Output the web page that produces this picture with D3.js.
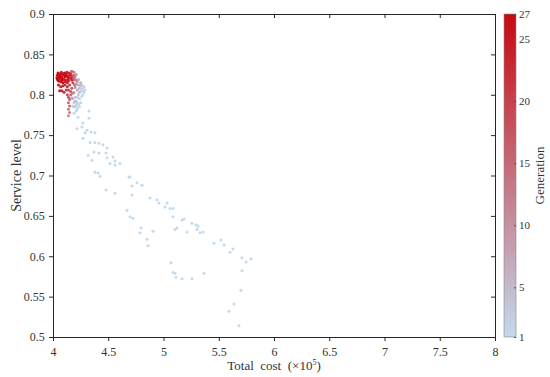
<!DOCTYPE html>
<html><head><meta charset="utf-8">
<script src="https://cdn.jsdelivr.net/npm/d3@7"></script>
<style>body{margin:0;background:#fff}svg{display:block}</style>
</head><body><svg id="c" width="550" height="377"></svg>
<script>
const xTicks = [4, 4.5, 5, 5.5, 6, 6.5, 7, 7.5, 8];
const yTicks = [0.5, 0.55, 0.6, 0.65, 0.7, 0.75, 0.8, 0.85, 0.9];
const genTicks = [1, 5, 10, 15, 20, 25, 27];
// tail points [cost, service, generation]
const tailPoints = [
 [4.181,0.785,2],[4.217,0.781,1],[4.326,0.780,1],[4.226,0.772,1],[4.326,0.771,1],[4.271,0.765,1],
 [4.217,0.758,1],[4.262,0.760,1],[4.308,0.756,1],[4.344,0.754,1],[4.380,0.753,1],[4.290,0.753,1],
 [4.271,0.746,1],[4.335,0.741,1],[4.380,0.741,1],[4.416,0.740,1],[4.452,0.738,1],[4.489,0.734,1],
 [4.371,0.729,1],[4.416,0.728,1],[4.543,0.723,1],[4.480,0.728,1],[4.317,0.725,1],[4.489,0.722,1],
 [4.561,0.718,1],[4.353,0.719,1],[4.516,0.715,1],[4.561,0.713,1],[4.606,0.715,1],[4.380,0.704,1],
 [4.407,0.703,1],[4.425,0.699,1],[4.697,0.698,1],[4.480,0.682,1],[4.561,0.678,1],
 [4.688,0.698,1],[4.760,0.691,1],[4.805,0.688,1],[4.715,0.687,1],[4.715,0.676,1],
 [4.878,0.672,1],[4.941,0.670,1],[4.959,0.666,1],[5.032,0.666,1],[5.014,0.661,1],[5.059,0.659,1],
 [5.086,0.659,1],[4.670,0.657,1],[4.697,0.649,1],[4.724,0.647,1],[5.086,0.649,1],[5.167,0.645,1],
 [5.186,0.646,1],[5.122,0.635,1],[5.104,0.633,1],[5.213,0.630,1],[4.796,0.635,1],[4.787,0.629,1],
 [4.905,0.631,1],[4.851,0.621,1],[4.860,0.613,1],
 [5.258,0.641,1],[5.294,0.639,1],[5.312,0.637,1],[5.303,0.633,1],[5.330,0.629,1],[5.357,0.630,1],
 [5.457,0.616,1],[5.520,0.620,1],[5.548,0.614,1],[5.602,0.605,1],[5.629,0.609,1],[5.710,0.598,1],
 [5.747,0.593,1],[5.792,0.597,1],[5.710,0.582,1],[5.367,0.579,1],[5.258,0.572,1],[5.701,0.558,1],
 [5.068,0.592,1],[5.086,0.580,1],[5.104,0.579,1],[5.113,0.574,1],[5.167,0.572,1],
 [5.638,0.541,1],[5.593,0.532,1],[5.683,0.514,1]
];
// dense cluster near the front
const clusterPoints = [
 [4.035,0.821,27],[4.045,0.827,26],[4.04,0.824,27],[4.05,0.826,27],[4.06,0.823,27],[4.07,0.825,26],
 [4.075,0.828,25],[4.08,0.822,27],[4.09,0.826,26],[4.10,0.824,27],[4.105,0.827,26],[4.11,0.822,26],
 [4.12,0.825,25],[4.125,0.828,24],[4.13,0.823,26],[4.14,0.821,25],[4.145,0.827,23],[4.15,0.824,24],
 [4.16,0.826,21],[4.16,0.820,23],[4.04,0.819,26],[4.05,0.817,27],[4.06,0.820,26],[4.07,0.816,25],
 [4.08,0.818,27],[4.09,0.815,26],[4.10,0.819,25],[4.11,0.816,24],[4.12,0.818,25],[4.13,0.815,23],
 [4.14,0.817,22],[4.17,0.818,21],[4.18,0.815,19],[4.05,0.812,25],[4.07,0.810,24],[4.09,0.811,23],
 [4.11,0.812,22],[4.13,0.810,21],[4.15,0.812,20],[4.06,0.805,24],[4.08,0.805,23],[4.10,0.803,22],
 [4.12,0.806,20],[4.055,0.822,27],[4.085,0.820,26],[4.115,0.826,25],[4.135,0.819,24],[4.165,0.823,20],
 [4.175,0.821,18],[4.185,0.824,16],[4.19,0.819,15],[4.20,0.822,13],[4.21,0.818,11],[4.195,0.812,14],
 [4.17,0.808,17],[4.16,0.804,17],[4.14,0.806,19],[4.13,0.800,18],[4.14,0.797,17],[4.15,0.794,16],
 [4.14,0.790,15],[4.15,0.786,14],[4.14,0.782,13],[4.15,0.778,12],[4.14,0.774,11],[4.16,0.800,15],
 [4.18,0.802,12],[4.20,0.809,10],[4.21,0.813,9],[4.22,0.816,8],[4.23,0.812,6],[4.22,0.806,7],
 [4.24,0.808,5],[4.25,0.811,4],[4.24,0.803,5],[4.26,0.805,3],[4.27,0.808,2],[4.28,0.803,2],
 [4.29,0.806,1],[4.18,0.795,4],[4.19,0.790,3],[4.20,0.785,3],[4.21,0.792,2],[4.22,0.797,2],
 [4.23,0.800,3],[4.24,0.795,2],[4.25,0.790,2],[4.21,0.780,1],[4.19,0.777,1],[4.20,0.797,4],
 [4.19,0.803,6],[4.17,0.796,8],[4.23,0.788,1],[4.22,0.783,1],[4.26,0.798,1],[4.20,0.792,5],
 [4.18,0.786,2],[4.25,0.815,6],[4.23,0.819,7],[4.21,0.825,9],[4.19,0.828,12],[4.17,0.829,16],
 [4.27,0.800,1],[4.28,0.810,2],[4.26,0.812,3],[4.22,0.790,2],[4.24,0.785,1],[4.21,0.787,2]
];
const allPoints = tailPoints.concat(clusterPoints);

const FONT = "'Liberation Serif', 'Times New Roman', Times, serif";
const svg = d3.select("#c").attr("font-family", FONT);
const M = {l:53, r:495, t:14, b:337};
const x = d3.scaleLinear().domain([4, 8]).range([M.l, M.r]);
const y = d3.scaleLinear().domain([0.5, 0.9]).range([M.b, M.t]);
const lowC = d3.rgb(195,218,238), highC = d3.rgb(200,8,16);
const color = d3.scaleLinear().domain([1, 27]).range([lowC, highC]).interpolate(d3.interpolateRgb);
const axisColor = "#333333";
const fmt = d => String(d);

// axes
const gx = svg.append("g").attr("transform", `translate(0,${M.b})`)
  .call(d3.axisBottom(x).tickValues(xTicks).tickFormat(fmt).tickSizeInner(4).tickSizeOuter(0));
const gy = svg.append("g").attr("transform", `translate(${M.l},0)`)
  .call(d3.axisLeft(y).tickValues(yTicks).tickFormat(fmt).tickSizeInner(4).tickSizeOuter(0));
const gxt = svg.append("g").attr("transform", `translate(0,${M.t})`)
  .call(d3.axisTop(x).tickValues(xTicks).tickFormat("").tickSizeInner(-4).tickSizeOuter(0));
const gyr = svg.append("g").attr("transform", `translate(${M.r},0)`)
  .call(d3.axisRight(y).tickValues(yTicks).tickFormat("").tickSizeInner(-4).tickSizeOuter(0));
[gx, gy, gxt, gyr].forEach(g => {
  g.attr("font-family", FONT);
  g.selectAll("path,line").attr("stroke", "#262626").attr("stroke-width", 1);
  g.selectAll("text").style("font-family", FONT).style("font-size", "12px").attr("fill", axisColor);
});
gx.selectAll("text").attr("dy", "1.0em");
gy.selectAll("text").attr("dx", "-0.1em");

// points
svg.append("g").selectAll("circle").data(allPoints.slice().sort((a,b)=>a[2]-b[2])).join("circle")
  .attr("cx", d => x(d[0])).attr("cy", d => y(d[1])).attr("r", 1.5)
  .attr("fill", d => color(d[2]));

// axis labels
svg.append("text").attr("x", (M.l+M.r)/2).attr("y", 370).attr("text-anchor","middle")
  .style("font-family", FONT).style("font-size","13px").attr("fill", axisColor)
  .html('Total&#160;&#160;cost&#160;&#160;(×10<tspan dy="-5" font-size="8">5</tspan><tspan dy="5">)</tspan>');
svg.append("text").attr("transform", `translate(21,${(M.t+M.b)/2}) rotate(-90)`)
  .attr("text-anchor","middle").style("font-family", FONT).style("font-size","14px").attr("fill", axisColor).text("Service level");

// colorbar
const cb = {x:504, w:12};
const cy = d3.scaleLinear().domain([1, 27]).range([M.b, M.t]);
const defs = svg.append("defs");
const grad = defs.append("linearGradient").attr("id","cg").attr("x1","0").attr("y1","1").attr("x2","0").attr("y2","0");
grad.append("stop").attr("offset","0").attr("stop-color", lowC.toString());
grad.append("stop").attr("offset","1").attr("stop-color", highC.toString());
svg.append("rect").attr("x", cb.x).attr("y", M.t).attr("width", cb.w).attr("height", M.b-M.t)
  .attr("fill","url(#cg)").attr("stroke","#888").attr("stroke-width",0.6);
const gc = svg.append("g").attr("transform", `translate(${cb.x+cb.w},0)`)
  .call(d3.axisRight(cy).tickValues(genTicks).tickFormat(fmt).tickSizeInner(-2).tickSizeOuter(0).tickPadding(3));
gc.attr("font-family", FONT);
gc.select("path").remove();
gc.selectAll("line").attr("stroke","#555");
gc.selectAll("text").style("font-family", FONT).style("font-size","11px").attr("fill", axisColor);
svg.append("text").attr("transform", `translate(544,${(M.t+M.b)/2}) rotate(-90)`)
  .attr("text-anchor","middle").style("font-family", FONT).style("font-size","13px").attr("fill", axisColor).text("Generation");
</script></body></html>
